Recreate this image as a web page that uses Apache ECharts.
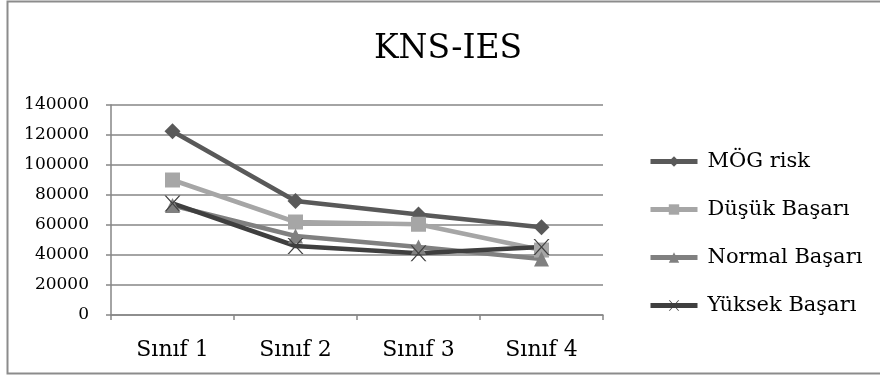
<!DOCTYPE html>
<html>
<head>
<meta charset="utf-8">
<style>
  html, body { margin: 0; padding: 0; background: #ffffff; }
  #chart { width: 880px; height: 376px; }
</style>
<script src="https://cdn.jsdelivr.net/npm/echarts@6/dist/echarts.min.js"></script>
</head>
<body>
<div id="chart"></div>
<script>
// Grade levels on the x axis
const categories = ['Sınıf 1', 'Sınıf 2', 'Sınıf 3', 'Sınıf 4'];

// One series per achievement group
const mogRisk = [122500, 76000, 67000, 58500];
const dusukBasari = [90000, 62000, 60500, 43300];
const normalBasari = [73000, 52700, 45300, 37300];
const yuksekBasari = [74400, 46000, 41100, 45300];

// Value axis ticks
const yTicks = [0, 20000, 40000, 60000, 80000, 100000, 120000, 140000];

const serif = 'DejaVu Serif';
const crossPath = 'path://M0,0 L2,0 L10,8 L18,0 L20,0 L11,9 L20,18 L18,18 L10,10 L2,18 L0,18 L9,9 Z';

function lineSeries(name, data, color, symbol, size) {
  return {
    name: name,
    type: 'line',
    data: data,
    symbol: symbol,
    symbolSize: size,
    showAllSymbol: true,
    lineStyle: { color: color, width: 4.5 },
    itemStyle: { color: color, borderWidth: 0 },
    emphasis: { disabled: true },
    animation: false
  };
}

const chart = echarts.init(document.getElementById('chart'), null, { renderer: 'canvas' });

chart.setOption({
  backgroundColor: '#ffffff',
  animation: false,
  graphic: [{
    type: 'rect',
    shape: { x: 7.5, y: 1.5, width: 900, height: 372 },
    style: { fill: 'none', stroke: '#8c8c8c', lineWidth: 2 },
    silent: true
  }],
  title: {
    text: 'KNS-IES',
    left: 443,
    top: 28,
    textAlign: 'center',
    textStyle: { fontFamily: serif, fontSize: 33, fontWeight: 'normal', color: '#000000' }
  },
  legend: {
    orient: 'vertical',
    left: 643,
    top: 146,
    itemWidth: 47,
    itemHeight: 13,
    itemGap: 27,
    lineStyle: { width: 5 },
    textStyle: { fontFamily: serif, fontSize: 21, color: '#000000', lineHeight: 21, padding: [0, 0, 0, 5] },
    data: ['MÖG risk', 'Düşük Başarı', 'Normal Başarı', 'Yüksek Başarı']
  },
  grid: { left: 111, right: 277, top: 105, bottom: 61, containLabel: false },
  xAxis: {
    type: 'category',
    data: categories,
    boundaryGap: true,
    axisLine: { lineStyle: { color: '#868686', width: 1.5 } },
    axisTick: { show: true, length: 5, alignWithLabel: false, lineStyle: { color: '#868686', width: 1.5 } },
    axisLabel: { fontFamily: serif, fontSize: 22, color: '#000000', margin: 24 }
  },
  yAxis: {
    type: 'value',
    min: yTicks[0],
    max: yTicks[yTicks.length - 1],
    interval: yTicks[1] - yTicks[0],
    axisLine: { show: true, lineStyle: { color: '#868686', width: 1.5 } },
    axisTick: { show: true, length: 5, inside: false, lineStyle: { color: '#868686', width: 1.5 } },
    splitLine: { show: true, lineStyle: { color: '#868686', width: 1.5 } },
    axisLabel: {
      fontFamily: serif, fontSize: 17, color: '#000000', margin: 22,
      formatter: function (v) { return String(v); }
    }
  },
  series: [
    lineSeries('MÖG risk', mogRisk, '#595959', 'diamond', 16),
    lineSeries('Düşük Başarı', dusukBasari, '#a6a6a6', 'rect', 15),
    lineSeries('Normal Başarı', normalBasari, '#808080', 'triangle', 15),
    lineSeries('Yüksek Başarı', yuksekBasari, '#3f3f3f', crossPath, 16)
  ]
});
</script>
</body>
</html>
